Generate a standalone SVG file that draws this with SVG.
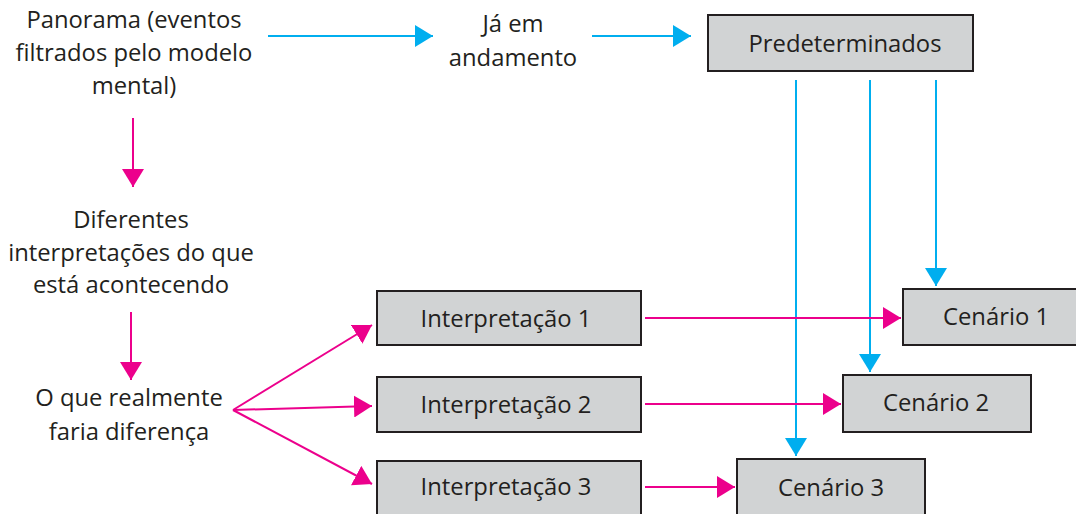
<svg xmlns="http://www.w3.org/2000/svg" width="1076" height="514" viewBox="0 0 1076 514">
<defs>
<marker id="ab" viewBox="0 0 18 22" refX="18" refY="11" markerWidth="18" markerHeight="22" markerUnits="userSpaceOnUse" orient="auto"><path d="M0,0 L18,11 L0,22 z" fill="#00aeef"/></marker>
<marker id="ap" viewBox="0 0 18 22" refX="18" refY="11" markerWidth="18" markerHeight="22" markerUnits="userSpaceOnUse" orient="auto"><path d="M0,0 L18,11 L0,22 z" fill="#ec008c"/></marker>
</defs>
<style>
text{font-family:"Open Sans","Liberation Sans",Arial,sans-serif;font-size:23.8px;fill:#231f20;text-anchor:middle}
.box{fill:#d1d3d4;stroke:#231f20;stroke-width:2}
.b{stroke:#00aeef;stroke-width:2;fill:none}
.p{stroke:#ec008c;stroke-width:2;fill:none}
</style>
<rect width="1076" height="514" fill="#fff"/>
<g id="connectors">
<line class="b" x1="268" y1="36" x2="433" y2="36" marker-end="url(#ab)"/>
<line class="b" x1="592" y1="36" x2="691" y2="36" marker-end="url(#ab)"/>
<line class="b" x1="796" y1="80" x2="796" y2="456" marker-end="url(#ab)"/>
<line class="b" x1="870" y1="80" x2="870" y2="372" marker-end="url(#ab)"/>
<line class="b" x1="936" y1="80" x2="936" y2="286" marker-end="url(#ab)"/>
<line class="p" x1="133" y1="118" x2="133" y2="187" marker-end="url(#ap)"/>
<line class="p" x1="131" y1="312" x2="131" y2="380" marker-end="url(#ap)"/>
<line class="p" x1="233" y1="410" x2="372" y2="325" marker-end="url(#ap)"/>
<line class="p" x1="233" y1="410" x2="372" y2="406" marker-end="url(#ap)"/>
<line class="p" x1="233" y1="410" x2="372" y2="484" marker-end="url(#ap)"/>
<line class="p" x1="645" y1="318" x2="901" y2="318" marker-end="url(#ap)"/>
<line class="p" x1="645" y1="404" x2="841" y2="404" marker-end="url(#ap)"/>
<line class="p" x1="645" y1="487" x2="735" y2="487" marker-end="url(#ap)"/>
</g>
<g id="panorama"><text x="134" y="28">Panorama (eventos</text><text x="134" y="61">filtrados pelo modelo</text><text x="134" y="94">mental)</text></g>
<g id="ja-em"><text x="513" y="32">Já em</text><text x="513" y="66">andamento</text></g>
<g id="predeterminados"><rect class="box" x="708" y="15" width="265" height="56"/><text x="845" y="52">Predeterminados</text></g>
<g id="diferentes"><text x="131" y="228">Diferentes</text><text x="131" y="261">interpretações do que</text><text x="131" y="293">está acontecendo</text></g>
<g id="oque"><text x="129" y="406">O que realmente</text><text x="129" y="440">faria diferença</text></g>
<g id="interp1"><rect class="box" x="377" y="291" width="264" height="54"/><text x="506" y="327">Interpretação 1</text></g>
<g id="interp2"><rect class="box" x="377" y="377" width="264" height="55"/><text x="506" y="413">Interpretação 2</text></g>
<g id="interp3"><rect class="box" x="377" y="461" width="264" height="56"/><text x="506" y="495">Interpretação 3</text></g>
<g id="cenario1"><rect class="box" x="903" y="289" width="176" height="56"/><text x="996" y="325">Cenário 1</text></g>
<g id="cenario2"><rect class="box" x="843" y="375" width="188" height="57"/><text x="936" y="411">Cenário 2</text></g>
<g id="cenario3"><rect class="box" x="737" y="459" width="188" height="58"/><text x="831" y="496">Cenário 3</text></g>
</svg>
